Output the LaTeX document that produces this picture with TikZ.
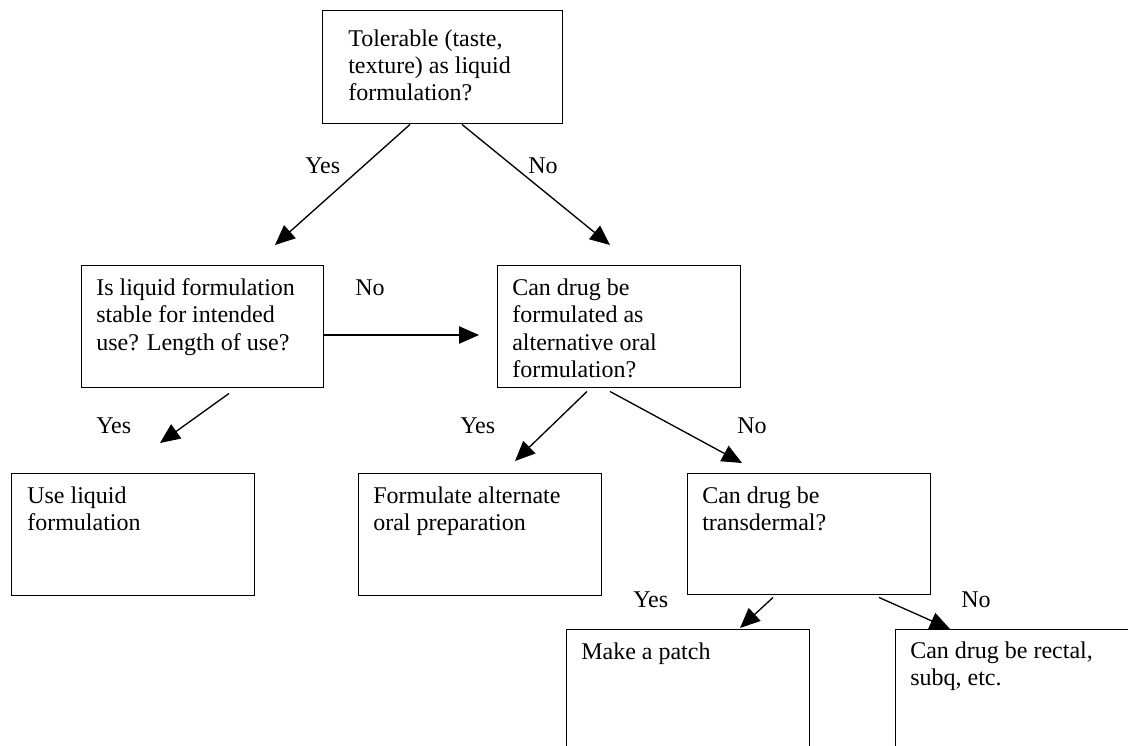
\documentclass[tikz,border=0pt]{standalone}
\usepackage{fontspec}
\setmainfont{Liberation Serif}
\usetikzlibrary{arrows.meta,calc}
\begin{document}
\begin{tikzpicture}[x=0.75pt,y=-0.75pt,
  box/.style={draw,line width=1.1pt,fill=white,inner sep=0pt,anchor=north west,minimum width=182.25pt,minimum height=91.5pt},
  txt/.style={anchor=base west,inner sep=0pt,font=\fontsize{18}{20.6}\selectfont},
  lbl/.style={anchor=base west,inner sep=0pt,font=\fontsize{18}{20.6}\selectfont},
  arr/.style={line width=1pt,-{Triangle[length=15pt,width=13pt]}}]
\clip (0,0) rectangle (1128,746);
\fill[white] (0,0) rectangle (1128,746);
% boxes
\node[box,minimum width=180pt,minimum height=84.75pt] (top) at (322,10) {};
\node[box,minimum width=181.5pt] (stable) at (81,265) {};
\node[box] (alt) at (497,265) {};
\node[box] (use) at (11,473) {};
\node[box] (formulate) at (358,473) {};
\node[box,minimum height=90.75pt] (trans) at (687,473) {};
\node[box,minimum height=105.75pt] (patch) at (566,629) {};
\node[box,minimum height=105.75pt] (rectal) at (895,629) {};
% texts
\node[txt] (ttop) at ($(top.north west)+(26,36)$) {\parbox[t]{200pt}{\raggedright Tolerable (taste,\\texture) as liquid\\formulation?}};
\node[txt] (tstable) at ($(stable.north west)+(15,30.5)$) {\parbox[t]{200pt}{\raggedright Is liquid formulation\\stable for intended\\use? Length of use?}};
\node[txt] (talt) at ($(alt.north west)+(15,30.5)$) {\parbox[t]{200pt}{\raggedright Can drug be\\formulated as\\alternative oral\\formulation?}};
\node[txt] (tuse) at ($(use.north west)+(16,30.5)$) {\parbox[t]{200pt}{\raggedright Use liquid\\formulation}};
\node[txt] (tformulate) at ($(formulate.north west)+(15,30.5)$) {\parbox[t]{200pt}{\raggedright Formulate alternate\\oral preparation}};
\node[txt] (ttrans) at ($(trans.north west)+(15,30.5)$) {\parbox[t]{200pt}{\raggedright Can drug be\\transdermal?}};
\node[txt] (tpatch) at ($(patch.north west)+(15,30)$) {\parbox[t]{200pt}{\raggedright Make a patch}};
\node[txt] (trectal) at ($(rectal.north west)+(15,29.5)$) {\parbox[t]{200pt}{\raggedright Can drug be rectal,\\subq, etc.}};
% labels
\node[lbl] (l1) at (305,173) {Yes};
\node[lbl] (l2) at (528,173) {No};
\node[lbl] (l3) at (355,295) {No};
\node[lbl] (l4) at (96,433) {Yes};
\node[lbl] (l5) at (460,433) {Yes};
\node[lbl] (l6) at (737,433) {No};
\node[lbl] (l7) at (633,607) {Yes};
\node[lbl] (l8) at (961,607) {No};
% arrows
\draw[arr] ($(top.south west)+(88,0)$) -- ($(stable.north west)+(194,-20)$);
\draw[arr] ($(top.south west)+(140,0)$) -- ($(alt.north west)+(113,-20)$);
\draw[arr] ($(stable.north east)+(0,70)$) -- ($(alt.north west)+(-18,70)$);
\draw[arr] ($(stable.south west)+(148,5)$) -- ($(use.north west)+(149,-30)$);
\draw[arr] ($(alt.south west)+(90,3)$) -- ($(formulate.north west)+(157,-12)$);
\draw[arr] ($(alt.south west)+(113,3)$) -- ($(trans.north west)+(55,-10)$);
\draw[arr] ($(trans.south west)+(86,2)$) -- ($(patch.north west)+(174,-1)$);
\draw[arr] ($(trans.south west)+(192,2)$) -- ($(rectal.north west)+(55,0)$);
\end{tikzpicture}
\end{document}
